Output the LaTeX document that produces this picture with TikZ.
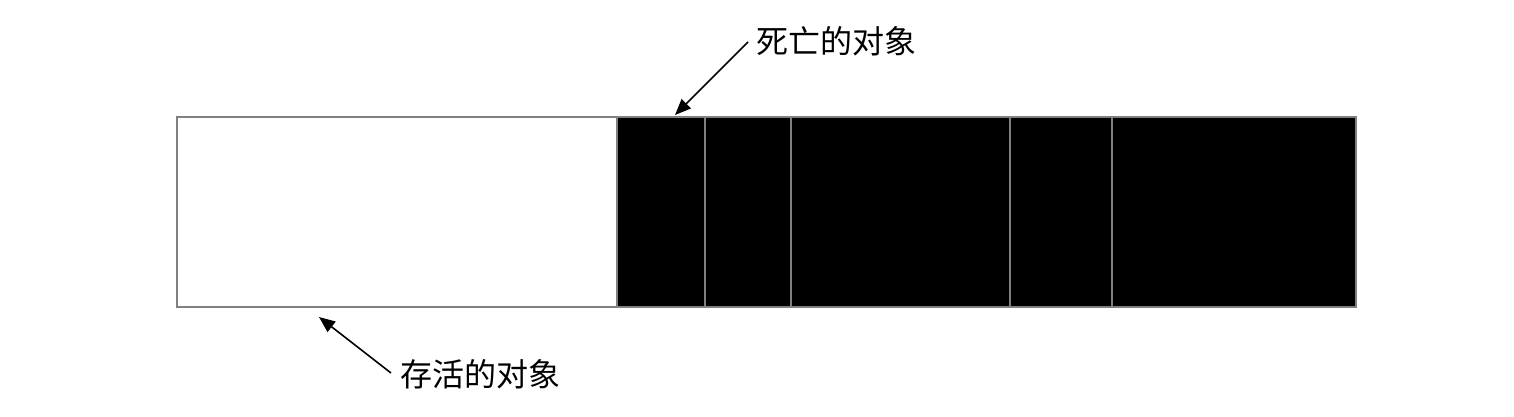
\documentclass[tikz,border=0pt]{standalone}
\usepackage{fontspec}
\newfontfamily\cjk{Noto Sans CJK SC}
\usetikzlibrary{arrows.meta}
\begin{document}
\begin{tikzpicture}[x=1pt,y=-1pt,
  cell/.style={draw=black!50,line width=2pt,minimum height=190pt,anchor=north west,inner sep=0pt},
  deadcell/.style={cell,fill=black},
  lbl/.style={font=\cjk\fontsize{32}{32}\selectfont,inner sep=0pt,anchor=west},
  pointer/.style={line width=1.6pt,-{Triangle[length=16pt,width=13pt]}}]
\useasboundingbox (0,0) rectangle (1514,416);
\node[cell,minimum width=440pt] (live) at (175.5,115.5) {};
\node[deadcell,minimum width=88pt] (d1) at (615.5,115.5) {};
\node[deadcell,minimum width=86pt] (d2) at (703.5,115.5) {};
\node[deadcell,minimum width=219pt] (d3) at (789.5,115.5) {};
\node[deadcell,minimum width=102pt] (d4) at (1008.5,115.5) {};
\node[deadcell,minimum width=244pt] (d5) at (1110.5,115.5) {};
\node[lbl] (deadlbl) at (756,41) {死亡的对象};
\node[lbl] (livelbl) at (400,374) {存活的对象};
\coordinate (deadtip) at (675,115);
\coordinate (livetip) at (319,317);
\coordinate (deadstart) at (748,42);
\coordinate (livestart) at (391,373);
\draw[pointer] (deadstart) -- (deadtip);
\draw[pointer] (livestart) -- (livetip);
\end{tikzpicture}
\end{document}
